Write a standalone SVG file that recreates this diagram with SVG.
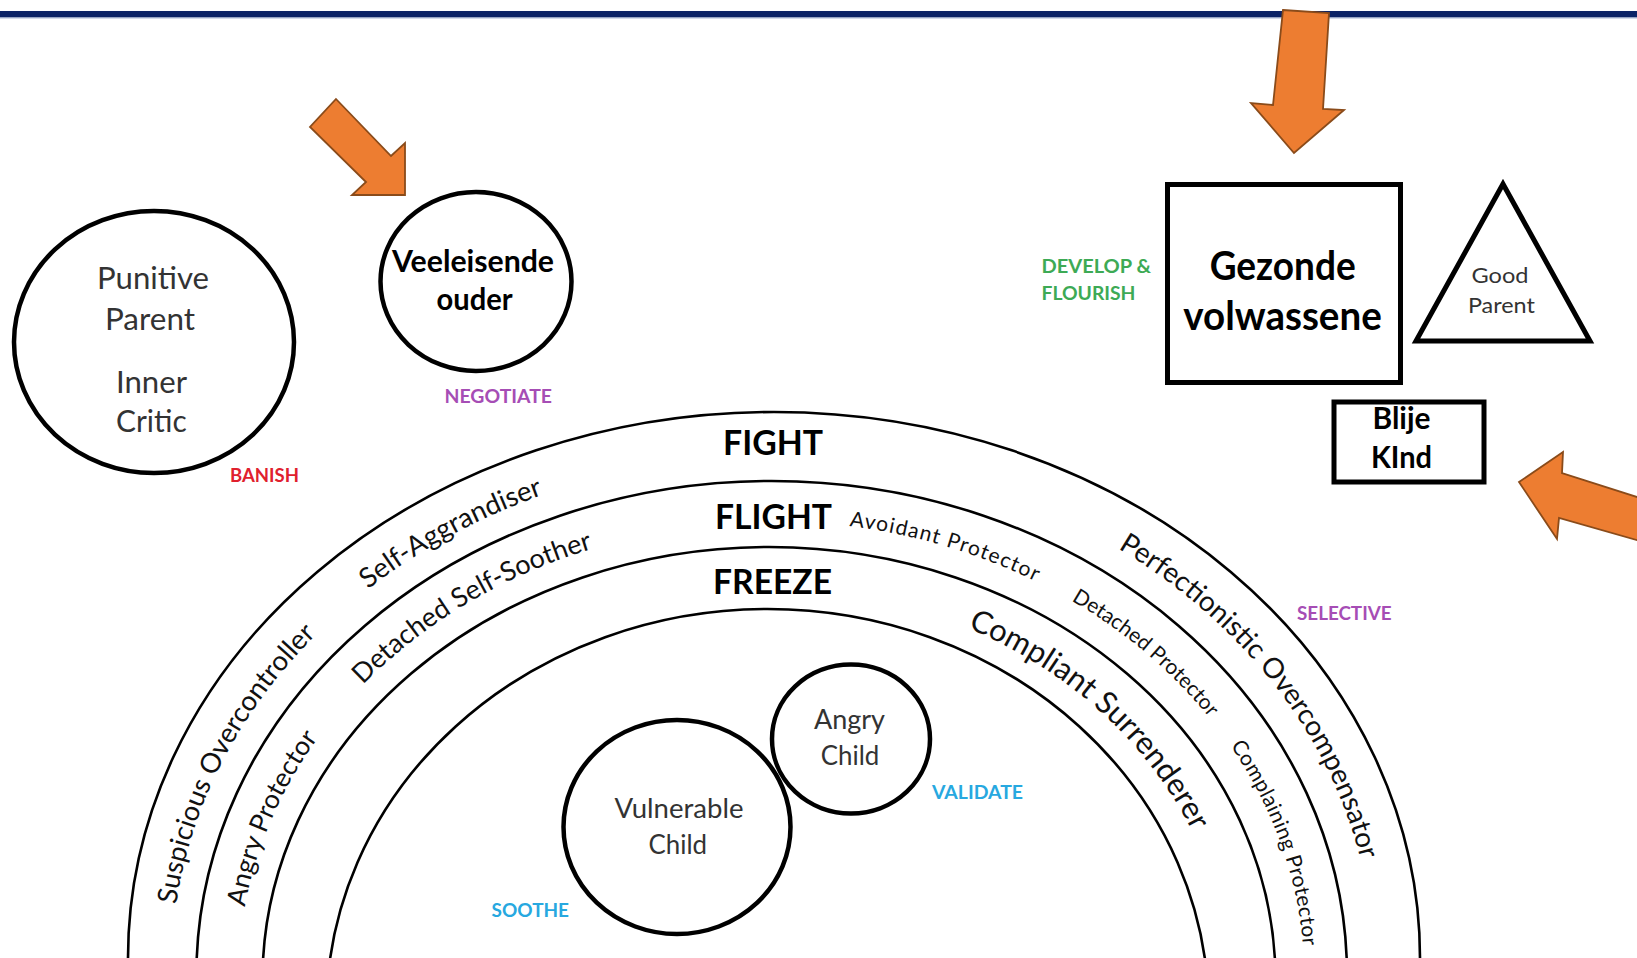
<svg xmlns="http://www.w3.org/2000/svg" xmlns:xlink="http://www.w3.org/1999/xlink" width="1637" height="958" viewBox="0 0 1637 958">
<style>
text{font-family:Lato,"Liberation Sans",sans-serif}
.reg{font-weight:400;fill:#333}
.bold{font-weight:700;fill:#000}
.tag{font-weight:700;font-size:19px}
.arc{fill:none;stroke:#000;stroke-width:2.6}
.node{fill:none;stroke:#000;stroke-width:4.5}
.box{fill:none;stroke:#000;stroke-width:5}
.arrow{fill:#ED7D31;stroke:#8A4B1A;stroke-width:1.8}
.band{font-weight:400;fill:#111}
.mid{text-anchor:middle}
</style>
<defs>
<path id="p1" d="M175.7 909 A601 510.5 0 0 1 319.6 631.3"/>
<path id="p2" d="M362.7 593.4 A601 510.5 0 0 1 549.7 492.5"/>
<path id="p3" d="M1115 546.8 A601 510.5 0 0 1 1361.4 863"/>
<path id="p4" d="M243.7 912.8 A532 455 0 0 1 321.6 733.1"/>
<path id="p5" d="M357.8 690.2 A532 455 0 0 1 600 546.4"/>
<path id="p6" d="M845.5 525.5 A534 456.5 0 0 1 1040 583.5"/>
<path id="p7" d="M1061.4 594.8 A534 456.5 0 0 1 1216.3 726.5"/>
<path id="p8" d="M1230.4 745.9 A534 456.5 0 0 1 1302.3 1017.3"/>
<path id="p9" d="M960.6 625.2 A463.2 406.5 0 0 1 1195.5 838.2"/>
</defs>
<rect x="0" y="11" width="1637" height="6.5" fill="#0B2366"/>
<rect x="0" y="17.5" width="1637" height="1" fill="#A9B8D3"/>
<g id="bands">
<ellipse class="arc" cx="774" cy="958" rx="646" ry="546"/>
<ellipse class="arc" cx="771.7" cy="975" rx="575.3" ry="494"/>
<ellipse class="arc" cx="769" cy="980" rx="506.5" ry="433"/>
<ellipse class="arc" cx="767.5" cy="1010" rx="441" ry="401"/>
<text class="bold mid" x="773" y="455" font-size="35" textLength="100" lengthAdjust="spacingAndGlyphs">FIGHT</text>
<text class="bold mid" x="773.5" y="529" font-size="35" textLength="117" lengthAdjust="spacingAndGlyphs">FLIGHT</text>
<text class="bold mid" x="772.5" y="593.5" font-size="35" textLength="119" lengthAdjust="spacingAndGlyphs">FREEZE</text>
<text class="band mid" font-size="27.5"><textPath href="#p1" startOffset="50%">Suspicious Overcontroller</textPath></text>
<text class="band mid" font-size="27.5"><textPath href="#p2" startOffset="50%">Self-Aggrandiser</textPath></text>
<text class="band mid" font-size="28"><textPath href="#p3" startOffset="50%">Perfectionistic Overcompensator</textPath></text>
<text class="band mid" font-size="26.5"><textPath href="#p4" startOffset="50%">Angry Protector</textPath></text>
<text class="band mid" font-size="27"><textPath href="#p5" startOffset="50%">Detached Self-Soother</textPath></text>
<text class="band mid" font-size="21" letter-spacing="1.2"><textPath href="#p6" startOffset="50%">Avoidant Protector</textPath></text>
<text class="band mid" font-size="21"><textPath href="#p7" startOffset="50%">Detached Protector</textPath></text>
<text class="band" font-size="21" letter-spacing="0.4"><textPath href="#p8" startOffset="0">Complaining Protector</textPath></text>
<text class="band mid" font-size="31"><textPath href="#p9" startOffset="50%">Compliant Surrenderer</textPath></text>
</g>
<g id="punitive-parent">
<ellipse class="node" cx="154" cy="342" rx="140" ry="131"/>
<text class="reg mid" x="153" y="289" font-size="30" textLength="112" lengthAdjust="spacingAndGlyphs">Punitive</text>
<text class="reg mid" x="150" y="330" font-size="30" textLength="90" lengthAdjust="spacingAndGlyphs">Parent</text>
<text class="reg mid" x="151.5" y="393" font-size="30" textLength="71" lengthAdjust="spacingAndGlyphs">Inner</text>
<text class="reg mid" x="151.4" y="432" font-size="30" textLength="70.6" lengthAdjust="spacingAndGlyphs">Critic</text>
<text class="tag" x="230" y="482" fill="#E0202E" textLength="69" lengthAdjust="spacingAndGlyphs">BANISH</text>
</g>
<g id="veeleisende-ouder">
<ellipse class="node" cx="476" cy="281.5" rx="95.5" ry="89.5"/>
<text class="bold mid" x="473" y="272" font-size="31" textLength="162" lengthAdjust="spacingAndGlyphs">Veeleisende</text>
<text class="bold mid" x="474.6" y="310" font-size="31" textLength="76" lengthAdjust="spacingAndGlyphs">ouder</text>
<text class="tag" x="444.5" y="403" fill="#A64DB5" textLength="107.5" lengthAdjust="spacingAndGlyphs">NEGOTIATE</text>
</g>
<g id="gezonde-volwassene">
<rect class="box" x="1167.5" y="184.5" width="233" height="198"/>
<text class="bold mid" x="1282.7" y="280" font-size="40" textLength="146" lengthAdjust="spacingAndGlyphs">Gezonde</text>
<text class="bold mid" x="1282.5" y="330" font-size="40" textLength="198.5" lengthAdjust="spacingAndGlyphs">volwassene</text>
<text class="tag" x="1041.5" y="273" fill="#3DAA55" textLength="109.5" lengthAdjust="spacingAndGlyphs">DEVELOP &amp;</text>
<text class="tag" x="1041.5" y="300" fill="#3DAA55" textLength="94" lengthAdjust="spacingAndGlyphs">FLOURISH</text>
</g>
<g id="good-parent">
<polygon class="box" points="1503,184 1590,341 1416,341"/>
<text class="reg mid" x="1500" y="283" font-size="22" textLength="57" lengthAdjust="spacingAndGlyphs">Good</text>
<text class="reg mid" x="1501.4" y="313" font-size="22" textLength="67" lengthAdjust="spacingAndGlyphs">Parent</text>
</g>
<g id="blije-kind">
<rect class="box" x="1334" y="402" width="150" height="80"/>
<text class="bold mid" x="1401.5" y="429" font-size="30" textLength="58" lengthAdjust="spacingAndGlyphs">Blije</text>
<text class="bold mid" x="1401.5" y="468" font-size="30" textLength="61" lengthAdjust="spacingAndGlyphs">KInd</text>
</g>
<g id="selective">
<text class="tag" x="1297" y="620" fill="#A64DB5" textLength="94.6" lengthAdjust="spacingAndGlyphs">SELECTIVE</text>
</g>
<g id="vulnerable-child">
<ellipse class="node" cx="677" cy="827" rx="113.5" ry="107"/>
<text class="reg mid" x="679" y="818" font-size="27" textLength="129" lengthAdjust="spacingAndGlyphs">Vulnerable</text>
<text class="reg mid" x="677.8" y="853.5" font-size="27" textLength="58.5" lengthAdjust="spacingAndGlyphs">Child</text>
<text class="tag" x="491.6" y="917" fill="#27A8E0" textLength="77.4" lengthAdjust="spacingAndGlyphs">SOOTHE</text>
</g>
<g id="angry-child">
<ellipse class="node" cx="851" cy="739" rx="79" ry="74.5"/>
<text class="reg mid" x="849.5" y="729" font-size="27" textLength="71" lengthAdjust="spacingAndGlyphs">Angry</text>
<text class="reg mid" x="850" y="765" font-size="27" textLength="58.5" lengthAdjust="spacingAndGlyphs">Child</text>
<text class="tag" x="932" y="799" fill="#27A8E0" textLength="91" lengthAdjust="spacingAndGlyphs">VALIDATE</text>
</g>
<g id="connectors">
<polygon class="arrow" points="336,99 391,156 405,143 405,195 352,195 366,182 310,127"/>
<polygon class="arrow" points="1283,10 1329,13 1323,109 1344,110 1294,153 1251,103 1273,105"/>
<polygon class="arrow" points="1519,482 1563,452 1562,473 1640,498 1640,541 1559,518 1557,539"/>
</g>
</svg>
